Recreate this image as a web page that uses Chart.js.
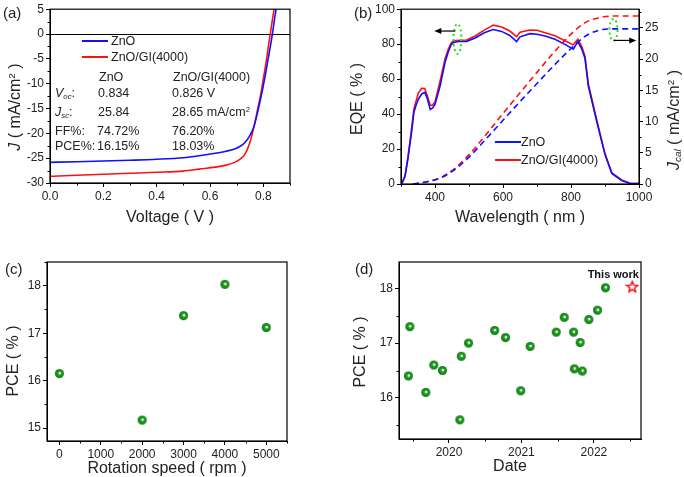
<!DOCTYPE html>
<html>
<head>
<meta charset="utf-8">
<script src="https://cdn.jsdelivr.net/npm/chart.js@4"></script>
<style>
  body { margin: 0; background: #fff; font-family: "Liberation Sans", Arial, sans-serif; color: #222; }
  #wrap { position: relative; width: 684px; height: 477px; overflow: hidden; }
  canvas { position: absolute; }
  .t { position: absolute; white-space: nowrap; font-size: 12.5px; line-height: 16px; }
  .ttl { position: absolute; white-space: nowrap; font-size: 16px; line-height: 18px; transform: translate(-50%, -50%); }
  .rot { transform: translate(-50%, -50%) rotate(-90deg); }
  .lab { position: absolute; font-size: 15px; }
  .ln { position: absolute; height: 2px; width: 26px; }
  sup { font-size: 0.62em; vertical-align: 0.55em; line-height: 0; }
  sub { font-size: 0.62em; vertical-align: -0.25em; line-height: 0; }
</style>
</head>
<body>
<div id="wrap">
  <canvas id="jv" width="342" height="240" style="left:0;top:0"></canvas>
  <canvas id="eqe" width="342" height="240" style="left:342px;top:0"></canvas>
  <canvas id="rpm" width="342" height="237" style="left:0;top:240px"></canvas>
  <canvas id="lit" width="342" height="237" style="left:342px;top:240px"></canvas>

  <div class="lab" style="left:3px;top:4px">(a)</div>
  <div class="lab" style="left:354px;top:4px">(b)</div>
  <div class="lab" style="left:5px;top:260px">(c)</div>
  <div class="lab" style="left:355px;top:260px">(d)</div>

  <!-- axis titles -->
  <div class="ttl rot" style="left:15px;top:107px"><i>J</i> ( mA/cm<sup>2</sup> )</div>
  <div class="ttl" style="left:170px;top:217px">Voltage ( V )</div>
  <div class="ttl rot" style="left:357px;top:99px">EQE ( % )</div>
  <div class="ttl" style="left:520px;top:217px">Wavelength ( nm )</div>
  <div class="ttl rot" style="left:674px;top:120px"><i>J<sub>cal</sub></i> ( mA/cm<sup>2</sup> )</div>
  <div class="ttl rot" style="left:13px;top:361px">PCE ( % )</div>
  <div class="ttl" style="left:167px;top:468px">Rotation speed ( rpm )</div>
  <div class="ttl rot" style="left:360px;top:352px">PCE ( % )</div>
  <div class="ttl" style="left:510px;top:466px">Date</div>

  <!-- legend (a) -->
  <div class="ln" style="left:82px;top:40px;background:#1010ff"></div>
  <div class="t" style="left:111px;top:33px">ZnO</div>
  <div class="ln" style="left:82px;top:56px;background:#ff1010"></div>
  <div class="t" style="left:111px;top:49px">ZnO/GI(4000)</div>

  <!-- parameter table (a) -->
  <div class="t" style="left:99px;top:69px">ZnO</div>
  <div class="t" style="left:173px;top:69px">ZnO/GI(4000)</div>
  <div class="t" style="left:55px;top:85px"><i>V<sub>oc</sub></i>:</div>
  <div class="t" style="left:98px;top:85px">0.834</div>
  <div class="t" style="left:172px;top:85px">0.826 V</div>
  <div class="t" style="left:55px;top:104px"><i>J<sub>sc</sub></i>:</div>
  <div class="t" style="left:98px;top:104px">25.84</div>
  <div class="t" style="left:172px;top:104px">28.65 mA/cm<sup>2</sup></div>
  <div class="t" style="left:55px;top:123px">FF%:</div>
  <div class="t" style="left:97px;top:123px">74.72%</div>
  <div class="t" style="left:172px;top:123px">76.20%</div>
  <div class="t" style="left:55px;top:138px">PCE%:</div>
  <div class="t" style="left:97px;top:138px">16.15%</div>
  <div class="t" style="left:172px;top:138px">18.03%</div>

  <!-- legend (b) -->
  <div class="ln" style="left:495px;top:141px;background:#1010ff"></div>
  <div class="t" style="left:521px;top:134px">ZnO</div>
  <div class="ln" style="left:495px;top:159px;background:#ff1010"></div>
  <div class="t" style="left:521px;top:152px">ZnO/GI(4000)</div>
</div>

<script>
// (a) J-V curves
const vZnO = [0, 0.1, 0.2, 0.3, 0.4, 0.5, 0.56, 0.62, 0.66, 0.69, 0.71, 0.73, 0.75, 0.765, 0.78, 0.79, 0.8, 0.81, 0.82, 0.834, 0.842, 0.852];
const jZnO = [-25.84, -25.72, -25.58, -25.42, -25.22, -24.9, -24.5, -24.0, -23.6, -23.2, -22.7, -21.9, -20.4, -18.6, -15.4, -13.0, -10.4, -7.5, -4.4, 0, 3.0, 6.5];
const vGI = [0, 0.1, 0.2, 0.3, 0.4, 0.5, 0.56, 0.62, 0.66, 0.69, 0.71, 0.73, 0.75, 0.765, 0.78, 0.79, 0.8, 0.81, 0.82, 0.826, 0.835, 0.845];
const jGI = [-28.65, -28.45, -28.25, -28.05, -27.85, -27.6, -27.2, -26.8, -26.4, -25.9, -25.3, -24.3, -21.8, -18.6, -14.8, -12.2, -9.0, -5.8, -2.1, 0, 3.2, 6.5];
const vTicks = [0, 0.2, 0.4, 0.6, 0.8];

// (b) EQE and integrated current
const wl = [300, 305, 312, 320, 330, 338, 345, 351, 361, 370, 378, 386, 393, 400, 415, 430, 439, 447, 454, 470, 493, 518, 545, 571, 596, 620, 640, 650, 679, 700, 724, 753, 782, 807, 820, 831, 841, 851, 876, 900, 920, 949, 974, 1000];
const eqeZnO = [0, 1.3, 4.5, 14, 28, 41, 45.5, 48.5, 51.5, 52.4, 48.5, 42.6, 43.5, 45.5, 56, 70, 75.5, 79.5, 80.9, 81.5, 81.6, 83.5, 86.5, 88.4, 87.3, 85, 81.5, 84.2, 86, 85.7, 84.7, 82.8, 79.9, 77.1, 81.4, 77.5, 72, 56, 35.5, 16.8, 6.0, 2.0, 0.3, 0.2];
const eqeGI = [0, 1.5, 5, 15, 30, 43, 48, 52, 54.7, 54.6, 50, 45, 45.2, 47, 59, 72, 77, 80.5, 81.8, 82.2, 82.4, 84.7, 88, 90.9, 89.8, 87.5, 84.3, 86.8, 88.1, 88, 86.5, 84.8, 82, 79.6, 82.8, 79, 73.3, 57.2, 36.4, 17.4, 6.4, 2.3, 0.4, 0.3];
const jWl = [335, 380, 420, 460, 500, 550, 600, 650, 700, 750, 800, 840, 880, 920, 1000];
const jcalZnO = [0, 0.4, 1.05, 2.4, 4.3, 7.2, 10.2, 13.2, 16.1, 19.0, 21.7, 23.6, 24.6, 24.85, 24.85];
const jcalGI = [0, 0.4, 1.1, 2.6, 4.7, 7.9, 11.3, 14.6, 17.9, 21.1, 24.0, 25.8, 26.6, 26.9, 26.9];
const wlTicks = [400, 600, 800, 1000];
const eqeTicks = [0, 20, 40, 60, 80, 100];
const jcalTicks = [0, 5, 10, 15, 20, 25];

// (c) PCE vs rotation speed
const rpm = [0, 2000, 3000, 4000, 5000];
const pceRpm = [16.15, 15.17, 17.37, 18.03, 17.12];
const rpmTicks = [0, 1000, 2000, 3000, 4000, 5000];
const pceTicksC = [15, 16, 17, 18];

// (d) literature PCE vs date
const litDate = [2019.44, 2019.46, 2019.68, 2019.79, 2019.91, 2020.15, 2020.17, 2020.27, 2020.63, 2020.78, 2020.99, 2021.12, 2021.48, 2021.59, 2021.72, 2021.73, 2021.81, 2021.84, 2021.93, 2022.05, 2022.16];
const litPce = [16.4, 17.3, 16.1, 16.6, 16.5, 15.6, 16.76, 17.0, 17.23, 17.1, 16.13, 16.94, 17.2, 17.47, 17.2, 16.53, 17.01, 16.49, 17.43, 17.6, 18.01];
const thisDate = [2022.53];
const thisPce = [18.03];
const yearTicks = [2020, 2021, 2022];
const pceTicksD = [16, 17, 18];

const FONT = "Liberation Sans, Arial, sans-serif";
const BLUE = "#1010ff";
const RED = "#ff1010";

function pts(xs, ys) {
	return xs.map((x, i) => ({ x: x, y: ys[i] }));
}

function fixTicks(list) {
	return (scale) => {
		scale.ticks = list.map((v) => ({ value: v }));
	};
}

function axis(opts) {
	const size = opts.size;
	const horiz = opts.horiz;
	return {
		type: "linear",
		position: opts.position,
		min: opts.min,
		max: opts.max,
		afterBuildTicks: fixTicks(opts.ticks),
		afterFit: (scale) => {
			if (horiz) scale.height = size;
			else scale.width = size;
		},
		grid: {
			drawOnChartArea: !!opts.zeroLine,
			color: (c) => (opts.zeroLine && c.tick && c.tick.value === 0 ? "#000" : "rgba(0,0,0,0)"),
			tickColor: "#000",
			tickLength: 4,
			tickWidth: 1
		},
		border: { color: "#000", width: 1 },
		ticks: {
			color: "#222",
			padding: 2,
			maxRotation: 0,
			font: { family: FONT, size: 12 },
			callback: opts.fmt || ((v) => String(v))
		}
	};
}

// frame box and minor ticks
const boxPlugin = {
	id: "box",
	afterDraw(chart, args, opts) {
		const ctx = chart.ctx;
		const a = chart.chartArea;
		ctx.save();
		ctx.strokeStyle = "#000";
		ctx.lineWidth = 1.2;
		ctx.strokeRect(a.left, a.top, a.right - a.left, a.bottom - a.top);
		ctx.lineWidth = 1;
		(opts.minor || []).forEach((m) => {
			const s = chart.scales[m.axis];
			for (let v = m.from; v <= s.max + 1e-9; v += m.step) {
				if (v < s.min - 1e-9) continue;
				const p = Math.round(s.getPixelForValue(v)) + 0.5;
				ctx.beginPath();
				if (s.isHorizontal()) {
					ctx.moveTo(p, a.bottom);
					ctx.lineTo(p, a.bottom + 2.5);
				} else if (s.position === "right") {
					ctx.moveTo(a.right, p);
					ctx.lineTo(a.right + 2.5, p);
				} else {
					ctx.moveTo(a.left, p);
					ctx.lineTo(a.left - 2.5, p);
				}
				ctx.stroke();
			}
		});
		ctx.restore();
	}
};

function sphere(r) {
	const c = document.createElement("canvas");
	c.width = c.height = Math.ceil(2 * r + 2);
	const g = c.getContext("2d");
	const cx = c.width / 2;
	const grad = g.createRadialGradient(cx + 0.5, cx - 0.6, 0, cx, cx, r);
	grad.addColorStop(0, "#ffffff");
	grad.addColorStop(0.18, "#eaf8ea");
	grad.addColorStop(0.36, "#2aa82a");
	grad.addColorStop(0.8, "#0e870e");
	grad.addColorStop(1, "#086a0a");
	g.fillStyle = grad;
	g.beginPath();
	g.arc(cx, cx, r, 0, Math.PI * 2);
	g.fill();
	return c;
}

function starImg() {
	const c = document.createElement("canvas");
	c.width = c.height = 14;
	const g = c.getContext("2d");
	g.beginPath();
	for (let i = 0; i < 10; i++) {
		const r = i % 2 === 0 ? 5.6 : 2.5;
		const ang = -Math.PI / 2 + (i * Math.PI) / 5;
		const x = 7 + r * Math.cos(ang);
		const y = 7.4 + r * Math.sin(ang);
		if (i === 0) g.moveTo(x, y);
		else g.lineTo(x, y);
	}
	g.closePath();
	g.fillStyle = "#fff";
	g.fill();
	g.strokeStyle = "#ff0000";
	g.lineWidth = 1.4;
	g.stroke();
	return c;
}

const ball = sphere(4.5);

const base = {
	responsive: false,
	animation: false,
	devicePixelRatio: 1,
	events: []
};

// ---------- (a) ----------
new Chart(document.getElementById("jv"), {
	type: "scatter",
	data: {
		datasets: [
			{ data: pts(vZnO, jZnO), borderColor: BLUE, borderWidth: 1.6, showLine: true, pointRadius: 0, cubicInterpolationMode: "monotone" },
			{ data: pts(vGI, jGI), borderColor: RED, borderWidth: 1.6, showLine: true, pointRadius: 0, cubicInterpolationMode: "monotone" }
		]
	},
	options: {
		...base,
		layout: { padding: { top: 6, right: 52, left: 0, bottom: 0 } },
		plugins: {
			legend: { display: false },
			tooltip: { enabled: false },
			box: { minor: [{ axis: "x", from: 0.1, step: 0.2 }, { axis: "y", from: -27.5, step: 5 }] }
		},
		scales: {
			x: axis({ horiz: true, position: "bottom", size: 57, min: 0, max: 0.9, ticks: vTicks, fmt: (v) => v.toFixed(1) }),
			y: axis({ horiz: false, position: "left", size: 50, min: -30, max: 5, ticks: [-30, -25, -20, -15, -10, -5, 0, 5], zeroLine: true })
		}
	},
	plugins: [boxPlugin]
});

// ---------- (b) ----------
// green dotted marks and arrows telling which axis each curve set belongs to
const eqeMarks = {
	id: "marks",
	afterDatasetsDraw(chart) {
		const ctx = chart.ctx;
		const x = chart.scales.x;
		const yl = chart.scales.y;
		const yr = chart.scales.y1;
		ctx.save();
		ctx.strokeStyle = "#22dd22";
		ctx.lineWidth = 2;
		ctx.setLineDash([2, 3]);
		ctx.beginPath();
		ctx.ellipse(x.getPixelForValue(466), yl.getPixelForValue(83), 4, 15, 0, 0, Math.PI * 2);
		ctx.stroke();
		ctx.beginPath();
		ctx.ellipse(x.getPixelForValue(925), yr.getPixelForValue(24.7), 4, 11, 0, 0, Math.PI * 2);
		ctx.stroke();
		ctx.setLineDash([]);
		ctx.strokeStyle = "#000";
		ctx.fillStyle = "#000";
		ctx.lineWidth = 1.2;
		const arrow = (x0, x1, y) => {
			const dir = Math.sign(x1 - x0);
			ctx.beginPath();
			ctx.moveTo(x0, y);
			ctx.lineTo(x1 - dir * 5, y);
			ctx.stroke();
			ctx.beginPath();
			ctx.moveTo(x1, y);
			ctx.lineTo(x1 - dir * 7, y - 3);
			ctx.lineTo(x1 - dir * 7, y + 3);
			ctx.closePath();
			ctx.fill();
		};
		arrow(x.getPixelForValue(460), x.getPixelForValue(398), yl.getPixelForValue(87.5));
		arrow(x.getPixelForValue(925), x.getPixelForValue(992), yr.getPixelForValue(23.0));
		ctx.restore();
	}
};

new Chart(document.getElementById("eqe"), {
	type: "scatter",
	data: {
		datasets: [
			{ data: pts(jWl, jcalZnO), yAxisID: "y1", borderColor: BLUE, borderWidth: 1.6, borderDash: [6, 4], showLine: true, pointRadius: 0, cubicInterpolationMode: "monotone" },
			{ data: pts(jWl, jcalGI), yAxisID: "y1", borderColor: RED, borderWidth: 1.6, borderDash: [6, 4], showLine: true, pointRadius: 0, cubicInterpolationMode: "monotone" },
			{ data: pts(wl, eqeZnO), yAxisID: "y", borderColor: BLUE, borderWidth: 1.6, showLine: true, pointRadius: 0 },
			{ data: pts(wl, eqeGI), yAxisID: "y", borderColor: RED, borderWidth: 1.6, showLine: true, pointRadius: 0 }
		]
	},
	options: {
		...base,
		layout: { padding: { top: 8, right: 0, left: 0, bottom: 0 } },
		plugins: {
			legend: { display: false },
			tooltip: { enabled: false },
			box: {
				minor: [
					{ axis: "x", from: 300, step: 200 },
					{ axis: "y", from: 10, step: 20 },
					{ axis: "y1", from: 2.5, step: 5 }
				]
			}
		},
		scales: {
			x: axis({ horiz: true, position: "bottom", size: 56, min: 300, max: 1000, ticks: wlTicks }),
			y: axis({ horiz: false, position: "left", size: 59, min: 0, max: 100, ticks: eqeTicks }),
			y1: axis({ horiz: false, position: "right", size: 45, min: 0, max: 28, ticks: jcalTicks })
		}
	},
	plugins: [boxPlugin, eqeMarks]
});

// ---------- (c) ----------
new Chart(document.getElementById("rpm"), {
	type: "scatter",
	data: {
		datasets: [{ data: pts(rpm, pceRpm), pointStyle: ball, pointRadius: 5 }]
	},
	options: {
		...base,
		layout: { padding: { top: 22, right: 55, left: 0, bottom: 0 } },
		plugins: {
			legend: { display: false },
			tooltip: { enabled: false },
			box: { minor: [{ axis: "x", from: 500, step: 1000 }, { axis: "y", from: 14.5, step: 1 }] }
		},
		scales: {
			x: axis({ horiz: true, position: "bottom", size: 36, min: -300, max: 5500, ticks: rpmTicks }),
			y: axis({ horiz: false, position: "left", size: 47, min: 14.73, max: 18.5, ticks: pceTicksC })
		}
	},
	plugins: [boxPlugin]
});

// ---------- (d) ----------
const thisWorkLabel = {
	id: "thisWork",
	afterDatasetsDraw(chart) {
		const p = chart.getDatasetMeta(1).data[0];
		const ctx = chart.ctx;
		ctx.save();
		ctx.font = "bold 11px " + FONT;
		ctx.fillStyle = "#111";
		ctx.textAlign = "center";
		ctx.textBaseline = "middle";
		ctx.fillText("This work", p.x - 19, p.y - 12);
		ctx.restore();
	}
};

new Chart(document.getElementById("lit"), {
	type: "scatter",
	data: {
		datasets: [
			{ data: pts(litDate, litPce), pointStyle: ball, pointRadius: 5 },
			{ data: pts(thisDate, thisPce), pointStyle: starImg(), pointRadius: 7 }
		]
	},
	options: {
		...base,
		layout: { padding: { top: 22, right: 43, left: 0, bottom: 0 } },
		plugins: {
			legend: { display: false },
			tooltip: { enabled: false },
			box: { minor: [{ axis: "x", from: 2019.5, step: 1 }, { axis: "y", from: 15.5, step: 1 }] }
		},
		scales: {
			x: axis({ horiz: true, position: "bottom", size: 38, min: 2019.31, max: 2022.65, ticks: yearTicks }),
			y: axis({ horiz: false, position: "left", size: 57, min: 15.25, max: 18.48, ticks: pceTicksD })
		}
	},
	plugins: [boxPlugin, thisWorkLabel]
});
</script>
</body>
</html>
